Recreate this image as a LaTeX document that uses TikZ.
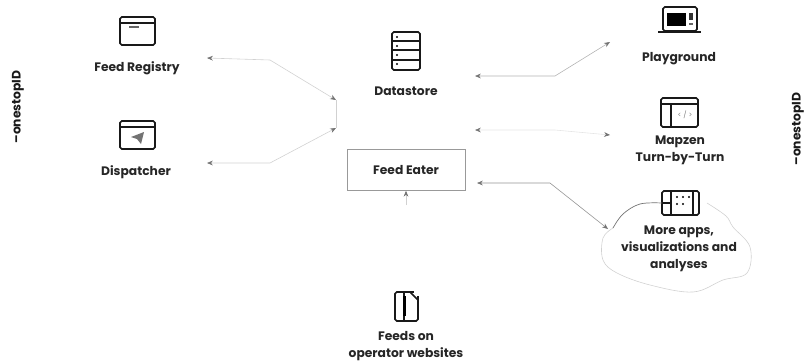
\documentclass[tikz,border=0pt]{standalone}
\usepackage{fontspec}
\setmainfont{Poppins}
\usetikzlibrary{arrows.meta,calc}

\tikzset{
  lbl/.style={font=\bfseries\fontsize{10.5}{14.3}\selectfont,align=center,text=black!85},
  brand/.style={font=\bfseries\fontsize{10.5}{12}\selectfont,rotate=90,text=black!90},
  link/.style={<->,>={Stealth[length=5pt,width=4pt,color=black!55]},draw=black!18,line width=0.5pt},
  icon/.style={draw=black!90,line width=1.3pt,rounded corners=1.5pt},
}

\begin{document}
\begin{tikzpicture}[x=0.03cm,y=-0.03cm]
\useasboundingbox (0,0) rectangle (807,360);

% Brand labels
\node[brand] (brandleft) at (18,107){--onestopID};
\node[brand] (brandright) at (798,129){--onestopID};

% Feed Registry
\draw[icon] (120,17) rectangle (155,45);
\draw[icon] (120,23)--(155,23);
\fill[black!60] (129,26) rectangle (139,28);
\node[lbl] (registry) at (137,68){Feed Registry};

% Dispatcher
\draw[icon] (120,121) rectangle (155,149);
\draw[icon] (120,127)--(155,127);
\fill[black!55] (131,137)--(144,132)--(141,144)--(137,139)--cycle;
\node[lbl] (dispatcher) at (136,172){Dispatcher};

% Datastore
\draw[icon] (392,32) rectangle (420,70);
\foreach \y in {41,50,60}
  \draw[icon] (392,\y)--(420,\y);
\foreach \y in {37,46,55,64}
  \fill (397,\y) circle (1pt);
\node[lbl] (datastore) at (406,91){Datastore};

% Feed Eater
\node[draw=black!40,line width=0.5pt,minimum width=3.54cm,minimum height=1.23cm,lbl] (eater) at (406,170){Feed Eater};

% Playground
\draw[icon] (663,7) rectangle (697,31);
\fill[black] (667,13) rectangle (686,26);
\fill[black!80] (689,13) rectangle (693,20);
\fill[black!60] (689,23) rectangle (693,25);
\draw[icon,line width=2pt] (658,32)--(701,32);
\node[lbl] (playground) at (679,59){Playground};

% Mapzen
\draw[icon] (661,98) rectangle (698,127);
\draw[icon] (661,104)--(698,104);
\draw[icon] (671,104)--(671,127);
\node[font=\fontsize{6}{6}\selectfont,text=black!50] (code) at (685,115){< / >};
\node[lbl] (mapzen) at (680,150){Mapzen\\Turn-by-Turn};

% More apps
\draw[icon] (662,191) rectangle (699,215);
\draw[icon] (671,191)--(671,215);
\draw[icon] (693,191)--(693,215);
\draw[icon] (662,203)--(671,203);
\foreach \x in {677,683,689}
  \fill (\x,197) circle (1pt);
\foreach \x in {677,683}
  \fill (\x,204) circle (1pt);
\node[lbl] (moreapps) at (679,249){More apps,\\visualizations and\\analyses};

% Cloud outline
\draw[black!55,line width=0.6pt] plot[smooth,tension=0.6] coordinates {(662,203) (640,204) (623,214) (613,228)};
\draw[black!18,line width=0.5pt] plot[smooth,tension=0.6] coordinates {(613,228) (603,238) (603,260) (617,273) (650,285) (693,292) (723,280) (747,273) (750,247) (733,227) (726,216) (707,203)};

% Feeds on operator websites
\draw[icon] (395,292) rectangle (418,321);
\draw[icon] (404,292)--(404,321);
\fill[black] (403,296) rectangle (406,316);
\fill[white] (414,290) rectangle (420,296);
\draw[icon] (410,292)--(418,300);
\node[lbl] (feeds) at (406,346){Feeds on\\operator websites};

% Junctions
\coordinate (regbend) at (270,60);
\coordinate (disbend) at (270,163);
\coordinate (regend) at (207,58);
\coordinate (disend) at (207,163);
\coordinate (storeleftA) at (336,100);
\coordinate (storeleftB) at (336,128);
\coordinate (storeright) at (475,76);
\coordinate (midleft) at (475,130);
\coordinate (eaterright) at (477,183);
\coordinate (playend) at (610,42);
\coordinate (mapend) at (610,135);
\coordinate (cloudend) at (608,229);

% Connectors
\draw[link] (regend)--(regbend)--(storeleftA);
\draw[link] (disend)--(disbend)--(storeleftB);
\draw[black!18,line width=0.5pt] (storeleftA)--(storeleftB);
\draw[link,draw=black!30] (storeright)--(555,76)--(playend);
\draw[link,draw=black!10] (midleft)--(555,130)--(mapend);
\draw[link,draw=black!42] (eaterright)--(550,183)--(cloudend);
\draw[->,>={Stealth[length=5pt,width=4pt,color=black!55]},draw=black!18,line width=0.5pt] (406,205)--(eater.south);

\end{tikzpicture}
\end{document}
